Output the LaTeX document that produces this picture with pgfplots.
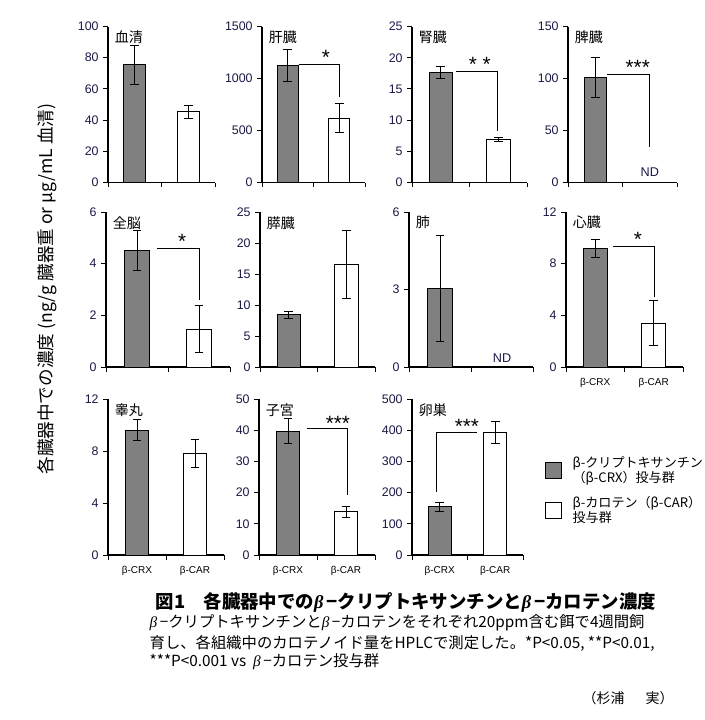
\documentclass[border=0pt]{standalone}
\usepackage{fontspec}
\setmainfont{Noto Sans CJK JP}
\newfontfamily\arial{Liberation Sans}
\newfontfamily\greekit{Liberation Serif}
\usepackage{pgfplots}
\pgfplotsset{compat=1.18}

\definecolor{barGray}{RGB}{128,128,128}
\definecolor{tickNavy}{RGB}{25,25,70}
\newcommand\bt{{\greekit\itshape β}\,}

% common look of the eleven small panels
\pgfplotsset{
  organ/.style={
    scale only axis, anchor=south west,
    ybar, bar width=0.41,
    xmin=0.5, xmax=2.5, ymin=0,
    axis x line*=bottom, axis y line*=left,
    axis line style={-, black, line width=0.8pt},
    xtick={0.5,1.5,2.5}, xticklabels={},
    tick align=outside, major tick length=3.5pt,
    tick style={black, line width=0.7pt},
    yticklabel style={font=\arial\fontsize{9.3}{10}\selectfont, text=tickNavy},
    /pgf/number format/assume math mode=true,
    /pgf/number format/1000 sep={},
    clip=false,
  },
  grouplabels/.style={
    extra x ticks={1,2}, extra x tick labels={β-CRX,β-CAR},
    extra x tick style={major tick length=0pt,
      tick label style={font=\arial\fontsize{7.5}{9}\selectfont, text=black, yshift=-5pt}},
  },
  crx/.style={fill=barGray, draw=black, line width=0.7pt, bar shift=0pt,
    error bars/y dir=both, error bars/y explicit,
    error bars/error bar style={black, line width=0.7pt},
    error bars/error mark options={rotate=90, mark size=3.2pt, black, line width=0.7pt}},
  car/.style={crx, fill=white},
}
\tikzset{
  organname/.style={anchor=north west, inner sep=1pt, font=\fontsize{10.5}{12}\selectfont, xshift=4pt, yshift=-2pt},
  stars/.style={font=\arial\fontsize{15.5}{16}\selectfont, yshift=-3pt},
  bracket/.style={black, line width=0.7pt},
  nd/.style={font=\arial\fontsize{9.5}{10}\selectfont, text=tickNavy},
}

\begin{document}
\begin{tikzpicture}
\path[use as bounding box] (0,0) rectangle (528.75pt,-540pt);

% ---------- row 1 ----------
\begin{axis}[organ, at={(81pt,-136.9pt)}, width=80.25pt, height=117pt,
  ymax=100, ytick={0,20,40,60,80,100}]
\addplot[crx] coordinates {(1,75.5) +- (0,12.5)};
\addplot[car] coordinates {(2,45.5) +- (0,4.2)};
\node[organname] at (rel axis cs:0,1) {血清};
\end{axis}

\begin{axis}[organ, at={(196.5pt,-136.9pt)}, width=77.25pt, height=117pt,
  ymax=1500, ytick={0,500,1000,1500}]
\addplot[crx] coordinates {(1,1125) +- (0,155)};
\addplot[car] coordinates {(2,618) +- (0,140)};
\node[organname] at (rel axis cs:0,1) {肝臓};
\draw[bracket] (axis cs:1.21,1135) -| (axis cs:2.0,827);
\node[stars] at (axis cs:1.74,1240) {*};
\end{axis}

\begin{axis}[organ, at={(309pt,-136.9pt)}, width=86.25pt, height=117pt,
  ymax=25, ytick={0,5,10,15,20,25}]
\addplot[crx] coordinates {(1,17.6) +- (0,1.0)};
\addplot[car] coordinates {(2,6.9) +- (0,0.3)};
\node[organname] at (rel axis cs:0,1) {腎臓};
\draw[bracket] (axis cs:1.27,17.8) -| (axis cs:1.99,8.3);
\node[stars] at (axis cs:1.68,19.6) {* *};
\end{axis}

\begin{axis}[organ, at={(426pt,-136.9pt)}, width=81.75pt, height=117pt,
  ymax=150, ytick={0,50,100,150}]
\addplot[crx] coordinates {(1,101) +- (0,19.5)};
\node[organname] at (rel axis cs:0,1) {脾臓};
\draw[bracket] (axis cs:1.22,104) -| (axis cs:2.0,34);
\node[stars] at (axis cs:1.78,115) {***};
\node[nd] at (axis cs:2.0,9.6) {ND};
\end{axis}

% ---------- row 2 ----------
\begin{axis}[organ, at={(79.5pt,-275.25pt)}, width=93pt, height=116.25pt,
  ymax=6, ytick={0,2,4,6}]
\addplot[crx] coordinates {(1,4.5) +- (0,0.78)};
\addplot[car] coordinates {(2,1.47) +- (0,0.9)};
\node[organname] at (rel axis cs:0,1) {全脳};
\draw[bracket] (axis cs:1.32,4.6) -| (axis cs:2.0,2.6);
\node[stars] at (axis cs:1.73,5.0) {*};
\end{axis}

\begin{axis}[organ, at={(195pt,-275.25pt)}, width=86.25pt, height=116.25pt,
  ymax=25, ytick={0,5,10,15,20,25}]
\addplot[crx] coordinates {(1,8.4) +- (0,0.5)};
\addplot[car] coordinates {(2,16.5) +- (0,5.5)};
\node[organname] at (rel axis cs:0,1) {膵臓};
\end{axis}

\begin{axis}[organ, at={(306.75pt,-275.25pt)}, width=93pt, height=116.25pt,
  ymax=6, ytick={0,3,6}]
\addplot[crx] coordinates {(1,3.05) +- (0,2.05)};
\node[organname] at (rel axis cs:0,1) {肺};
\node[nd] at (axis cs:2.0,0.35) {ND};
\end{axis}

\begin{axis}[organ, grouplabels, at={(424.5pt,-275.25pt)}, width=87.75pt, height=116.25pt,
  ymax=12, ytick={0,4,8,12}]
\addplot[crx] coordinates {(1,9.2) +- (0,0.7)};
\addplot[car] coordinates {(2,3.4) +- (0,1.75)};
\node[organname] at (rel axis cs:0,1) {心臓};
\draw[bracket] (axis cs:1.30,9.3) -| (axis cs:2.02,5.4);
\node[stars] at (axis cs:1.73,10.2) {*};
\end{axis}

% ---------- row 3 ----------
\begin{axis}[organ, grouplabels, at={(81pt,-416.25pt)}, width=87pt, height=117pt,
  ymax=12, ytick={0,4,8,12}]
\addplot[crx] coordinates {(1,9.6) +- (0,0.8)};
\addplot[car] coordinates {(2,7.8) +- (0,1.1)};
\node[organname] at (rel axis cs:0,1) {睾丸};
\end{axis}

\begin{axis}[organ, grouplabels, at={(194.25pt,-416.25pt)}, width=87pt, height=117pt,
  ymax=50, ytick={0,10,20,30,40,50}]
\addplot[crx] coordinates {(1,39.7) +- (0,4.0)};
\addplot[car] coordinates {(2,13.8) +- (0,1.7)};
\node[organname] at (rel axis cs:0,1) {子宮};
\draw[bracket] (axis cs:1.33,40.7) -| (axis cs:2.02,19.2);
\node[stars] at (axis cs:1.86,43.6) {***};
\end{axis}

\begin{axis}[organ, grouplabels, at={(309pt,-416.25pt)}, width=83.25pt, height=117pt,
  ymax=500, ytick={0,100,200,300,400,500},
  legend style={at={(1.16,0.665)}, anchor=north west, draw=none, fill=none,
    font=\fontsize{9.8}{11}\selectfont, row sep=5pt, cells={align=left},
    /tikz/every odd column/.append style={column sep=6pt}},
  legend cell align=left,
  legend image code/.code={\draw[#1] (0pt,-6pt) rectangle (12pt,6pt);}]
\addplot[crx] coordinates {(1,155) +- (0,15)};
\addlegendentry{β-クリプトキサンチン\\（β-CRX）投与群}
\addplot[car] coordinates {(2,393) +- (0,35)};
\addlegendentry{β-カロテン（β-CAR）\\投与群}
\node[organname] at (rel axis cs:0,1) {卵巣};
\draw[bracket] (axis cs:0.94,202) |- (axis cs:1.68,394);
\node[stars] at (axis cs:1.49,426) {***};
\end{axis}

% ---------- shared y label ----------
\node[rotate=90, font=\fontsize{13.2}{14}\selectfont] at (35.25pt,-216.75pt)
  {各臓器中での濃度 (ng/g 臓器重 or μg/mL 血清)};

% ---------- caption ----------
\node[anchor=west, font=\bfseries\fontsize{13.8}{15}\selectfont] at (113.25pt,-451.5pt)
  {図1\hspace{1em}各臓器中での\bt −クリプトキサンチンと\bt −カロテン濃度};
\node[anchor=west, font=\fontsize{11.5}{13}\selectfont] at (108.75pt,-467.25pt)
  {\bt −クリプトキサンチンと\bt −カロテンをそれぞれ20ppm含む餌で4週間飼};
\node[anchor=west, font=\fontsize{11.5}{13}\selectfont] at (108.75pt,-482.25pt)
  {育し、各組織中のカロテノイド量をHPLCで測定した。*P<0.05, **P<0.01,};
\node[anchor=west, font=\fontsize{11.5}{13}\selectfont] at (108.75pt,-496.5pt)
  {***P<0.001 vs \ \bt −カロテン投与群};
\node[anchor=west, font=\fontsize{10.5}{12}\selectfont] at (433.5pt,-523.5pt)
  {（杉浦\hspace{0.5em}　実）};
\end{tikzpicture}
\end{document}
